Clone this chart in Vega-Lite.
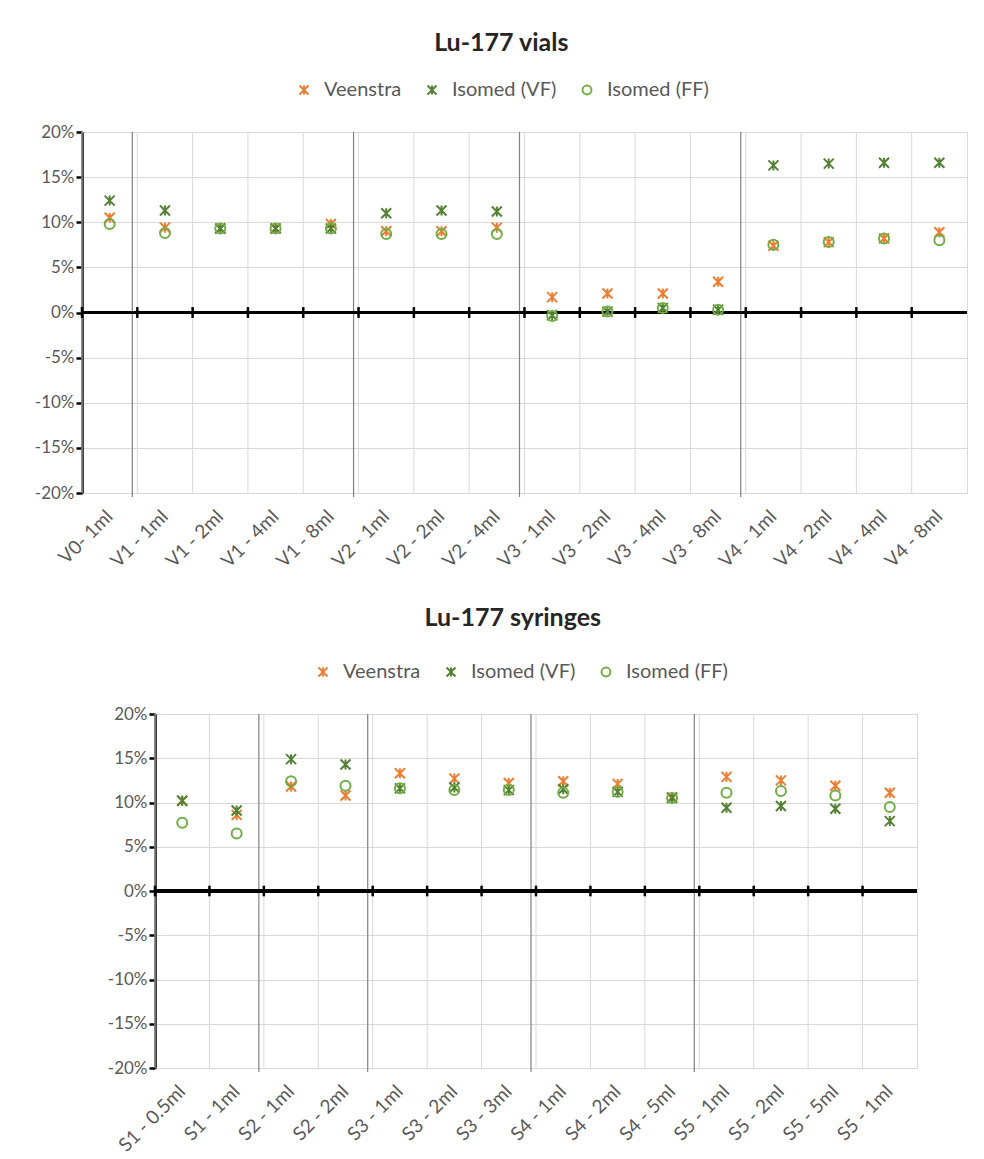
{
  "$schema": "https://vega.github.io/schema/vega-lite/v6.json",
  "padding": {"left": 33, "top": 30, "right": 4, "bottom": 4},
  "background": "white",
  "config": {
    "font": "Lato",
    "view": {"stroke": "#d9d9d9"},
    "axisX": {"labelAngle": -45, "labelFontSize": 19, "labelColor": "#595959", "labelBaseline": "middle", "labelAlign": "right", "ticks": false, "domain": false, "grid": false, "labelPadding": 20, "title": null},
    "axisY": {"labelFontSize": 17, "labelColor": "#595959", "domain": true, "domainColor": "#000000", "domainWidth": 2.5, "ticks": true, "tickColor": "#000000", "tickWidth": 2.5, "tickSize": 6, "labelPadding": 2, "grid": true, "gridColor": "#d9d9d9", "title": null},
    "legend": {"labelFontSize": 20, "labelColor": "#595959", "symbolStrokeWidth": 2, "symbolSize": 80, "labelOffset": 10, "columnPadding": 20, "padding": 0},
    "title": {"font": "Lato", "fontSize": 25, "fontWeight": "bold", "color": "#262626", "frame": "bounds", "anchor": "middle"}
  },
  "datasets": {
    "vials": [
      {"cat": "V0- 1ml", "series": "Veenstra", "value": 10.5},
      {"cat": "V1 - 1ml", "series": "Veenstra", "value": 9.4},
      {"cat": "V1 - 2ml", "series": "Veenstra", "value": 9.3},
      {"cat": "V1 - 4ml", "series": "Veenstra", "value": 9.3},
      {"cat": "V1 - 8ml", "series": "Veenstra", "value": 9.8},
      {"cat": "V2 - 1ml", "series": "Veenstra", "value": 9.0},
      {"cat": "V2 - 2ml", "series": "Veenstra", "value": 9.0},
      {"cat": "V2 - 4ml", "series": "Veenstra", "value": 9.4},
      {"cat": "V3 - 1ml", "series": "Veenstra", "value": 1.7},
      {"cat": "V3 - 2ml", "series": "Veenstra", "value": 2.1},
      {"cat": "V3 - 4ml", "series": "Veenstra", "value": 2.1},
      {"cat": "V3 - 8ml", "series": "Veenstra", "value": 3.4},
      {"cat": "V4 - 1ml", "series": "Veenstra", "value": 7.4},
      {"cat": "V4 - 2ml", "series": "Veenstra", "value": 7.8},
      {"cat": "V4 - 4ml", "series": "Veenstra", "value": 8.2},
      {"cat": "V4 - 8ml", "series": "Veenstra", "value": 8.9},
      {"cat": "V0- 1ml", "series": "Isomed (VF)", "value": 12.4},
      {"cat": "V1 - 1ml", "series": "Isomed (VF)", "value": 11.3},
      {"cat": "V1 - 2ml", "series": "Isomed (VF)", "value": 9.3},
      {"cat": "V1 - 4ml", "series": "Isomed (VF)", "value": 9.3},
      {"cat": "V1 - 8ml", "series": "Isomed (VF)", "value": 9.3},
      {"cat": "V2 - 1ml", "series": "Isomed (VF)", "value": 11.0},
      {"cat": "V2 - 2ml", "series": "Isomed (VF)", "value": 11.3},
      {"cat": "V2 - 4ml", "series": "Isomed (VF)", "value": 11.2},
      {"cat": "V3 - 1ml", "series": "Isomed (VF)", "value": -0.3},
      {"cat": "V3 - 2ml", "series": "Isomed (VF)", "value": 0.1},
      {"cat": "V3 - 4ml", "series": "Isomed (VF)", "value": 0.5},
      {"cat": "V3 - 8ml", "series": "Isomed (VF)", "value": 0.3},
      {"cat": "V4 - 1ml", "series": "Isomed (VF)", "value": 16.3},
      {"cat": "V4 - 2ml", "series": "Isomed (VF)", "value": 16.5},
      {"cat": "V4 - 4ml", "series": "Isomed (VF)", "value": 16.6},
      {"cat": "V4 - 8ml", "series": "Isomed (VF)", "value": 16.6},
      {"cat": "V0- 1ml", "series": "Isomed (FF)", "value": 9.8},
      {"cat": "V1 - 1ml", "series": "Isomed (FF)", "value": 8.8},
      {"cat": "V1 - 2ml", "series": "Isomed (FF)", "value": 9.3},
      {"cat": "V1 - 4ml", "series": "Isomed (FF)", "value": 9.3},
      {"cat": "V1 - 8ml", "series": "Isomed (FF)", "value": 9.3},
      {"cat": "V2 - 1ml", "series": "Isomed (FF)", "value": 8.7},
      {"cat": "V2 - 2ml", "series": "Isomed (FF)", "value": 8.7},
      {"cat": "V2 - 4ml", "series": "Isomed (FF)", "value": 8.7},
      {"cat": "V3 - 1ml", "series": "Isomed (FF)", "value": -0.4},
      {"cat": "V3 - 2ml", "series": "Isomed (FF)", "value": 0.1},
      {"cat": "V3 - 4ml", "series": "Isomed (FF)", "value": 0.5},
      {"cat": "V3 - 8ml", "series": "Isomed (FF)", "value": 0.3},
      {"cat": "V4 - 1ml", "series": "Isomed (FF)", "value": 7.5},
      {"cat": "V4 - 2ml", "series": "Isomed (FF)", "value": 7.8},
      {"cat": "V4 - 4ml", "series": "Isomed (FF)", "value": 8.2},
      {"cat": "V4 - 8ml", "series": "Isomed (FF)", "value": 8.0}
    ],
    "vialsep": [{"cat": "V1 - 1ml"}, {"cat": "V2 - 1ml"}, {"cat": "V3 - 1ml"}, {"cat": "V4 - 1ml"}],
    "syringes": [
      {"cat": "S1 - 0.5ml", "series": "Veenstra", "value": 10.2},
      {"cat": "S1 - 1ml", "series": "Veenstra", "value": 8.6},
      {"cat": "S2 - 1ml", "series": "Veenstra", "value": 11.8},
      {"cat": "S2 - 2ml", "series": "Veenstra", "value": 10.8},
      {"cat": "S3 - 1ml", "series": "Veenstra", "value": 13.3},
      {"cat": "S3 - 2ml", "series": "Veenstra", "value": 12.7},
      {"cat": "S3 - 3ml", "series": "Veenstra", "value": 12.2},
      {"cat": "S4 - 1ml", "series": "Veenstra", "value": 12.4},
      {"cat": "S4 - 2ml", "series": "Veenstra", "value": 12.1},
      {"cat": "S4 - 5ml", "series": "Veenstra", "value": 10.6},
      {"cat": "S5 - 1ml", "series": "Veenstra", "value": 12.9},
      {"cat": "S5 - 2ml", "series": "Veenstra", "value": 12.5},
      {"cat": "S5 - 5ml", "series": "Veenstra", "value": 11.9},
      {"cat": "S5 - 1ml ", "series": "Veenstra", "value": 11.1},
      {"cat": "S1 - 0.5ml", "series": "Isomed (VF)", "value": 10.2},
      {"cat": "S1 - 1ml", "series": "Isomed (VF)", "value": 9.1},
      {"cat": "S2 - 1ml", "series": "Isomed (VF)", "value": 14.9},
      {"cat": "S2 - 2ml", "series": "Isomed (VF)", "value": 14.3},
      {"cat": "S3 - 1ml", "series": "Isomed (VF)", "value": 11.6},
      {"cat": "S3 - 2ml", "series": "Isomed (VF)", "value": 11.7},
      {"cat": "S3 - 3ml", "series": "Isomed (VF)", "value": 11.4},
      {"cat": "S4 - 1ml", "series": "Isomed (VF)", "value": 11.5},
      {"cat": "S4 - 2ml", "series": "Isomed (VF)", "value": 11.2},
      {"cat": "S4 - 5ml", "series": "Isomed (VF)", "value": 10.5},
      {"cat": "S5 - 1ml", "series": "Isomed (VF)", "value": 9.4},
      {"cat": "S5 - 2ml", "series": "Isomed (VF)", "value": 9.6},
      {"cat": "S5 - 5ml", "series": "Isomed (VF)", "value": 9.3},
      {"cat": "S5 - 1ml ", "series": "Isomed (VF)", "value": 7.9},
      {"cat": "S1 - 0.5ml", "series": "Isomed (FF)", "value": 7.7},
      {"cat": "S1 - 1ml", "series": "Isomed (FF)", "value": 6.5},
      {"cat": "S2 - 1ml", "series": "Isomed (FF)", "value": 12.4},
      {"cat": "S2 - 2ml", "series": "Isomed (FF)", "value": 11.9},
      {"cat": "S3 - 1ml", "series": "Isomed (FF)", "value": 11.6},
      {"cat": "S3 - 2ml", "series": "Isomed (FF)", "value": 11.4},
      {"cat": "S3 - 3ml", "series": "Isomed (FF)", "value": 11.4},
      {"cat": "S4 - 1ml", "series": "Isomed (FF)", "value": 11.1},
      {"cat": "S4 - 2ml", "series": "Isomed (FF)", "value": 11.2},
      {"cat": "S4 - 5ml", "series": "Isomed (FF)", "value": 10.5},
      {"cat": "S5 - 1ml", "series": "Isomed (FF)", "value": 11.1},
      {"cat": "S5 - 2ml", "series": "Isomed (FF)", "value": 11.3},
      {"cat": "S5 - 5ml", "series": "Isomed (FF)", "value": 10.8},
      {"cat": "S5 - 1ml ", "series": "Isomed (FF)", "value": 9.5}
    ],
    "syrsep": [{"cat": "S2 - 1ml"}, {"cat": "S3 - 1ml"}, {"cat": "S4 - 1ml"}, {"cat": "S5 - 1ml"}]
  },
  "vconcat": [
    {
      "title": {"text": "Lu-177 vials", "offset": 24},
      "width": 885,
      "height": 361,
      "layer": [
        {
          "data": {"name": "vials"},
          "transform": [{"filter": "datum.series === 'Veenstra'"}],
          "mark": {"type": "rule", "color": "#d9d9d9", "strokeWidth": 1},
          "encoding": {
            "x": {"field": "cat", "type": "nominal", "bandPosition": 0, "title": null,
              "scale": {"type": "band", "paddingInner": 0, "paddingOuter": 0,
                "domain": ["V0- 1ml", "V1 - 1ml", "V1 - 2ml", "V1 - 4ml", "V1 - 8ml", "V2 - 1ml", "V2 - 2ml", "V2 - 4ml", "V3 - 1ml", "V3 - 2ml", "V3 - 4ml", "V3 - 8ml", "V4 - 1ml", "V4 - 2ml", "V4 - 4ml", "V4 - 8ml"]}},
            "y": {"datum": -20, "type": "quantitative", "scale": {"domain": [-20, 20], "nice": false},
              "axis": {"values": [-20, -15, -10, -5, 0, 5, 10, 15, 20], "labelExpr": "datum.value + '%'"}},
            "y2": {"datum": 20}
          }
        },
        {
          "data": {"name": "vialsep"},
          "mark": {"type": "rule", "color": "#808080", "strokeWidth": 1.2, "xOffset": -5},
          "encoding": {
            "x": {"field": "cat", "type": "nominal", "bandPosition": 0, "title": null},
            "y": {"datum": 20, "type": "quantitative"},
            "y2": {"datum": -20.45}
          }
        },
        {
          "data": {"name": "vials"},
          "mark": {"type": "rule", "color": "#000000", "strokeWidth": 2.5},
          "encoding": {"y": {"datum": 0, "type": "quantitative"}}
        },
        {
          "data": {"name": "vials"},
          "transform": [{"filter": "datum.series === 'Veenstra'"}],
          "mark": {"type": "rule", "color": "#000000", "strokeWidth": 2.5},
          "encoding": {
            "x": {"field": "cat", "type": "nominal", "bandPosition": 0, "title": null},
            "y": {"datum": -0.6, "type": "quantitative"},
            "y2": {"datum": 0.6}
          }
        },
        {
          "data": {"name": "vials"},
          "mark": {"type": "point", "filled": false, "strokeWidth": 2, "size": 100, "opacity": 1},
          "encoding": {
            "x": {"field": "cat", "type": "nominal", "title": null},
            "y": {"field": "value", "type": "quantitative", "title": null},
            "color": {"field": "series", "type": "nominal",
              "scale": {"domain": ["Veenstra", "Isomed (VF)", "Isomed (FF)"], "range": ["#ED7D31", "#548235", "#70AD47"]},
              "legend": {"title": null, "orient": "none", "direction": "horizontal", "legendX": 212, "legendY": -52}},
            "shape": {"field": "series", "type": "nominal",
              "scale": {"domain": ["Veenstra", "Isomed (VF)", "Isomed (FF)"], "range": ["M-1,-1L1,1M1,-1L-1,1M0,-1L0,1", "M-1,-1L1,1M1,-1L-1,1M0,-1L0,1", "circle"]},
              "legend": {"title": null, "orient": "none", "direction": "horizontal", "legendX": 212, "legendY": -52}}
          }
        }
      ]
    },
    {
      "spacing": 0,
      "resolve": {"scale": {"color": "independent", "shape": "independent"}, "legend": {"color": "independent", "shape": "independent"}},
      "hconcat": [
        {
          "width": 24,
          "height": 10,
          "view": {"stroke": null},
          "data": {"values": [{"a": 1}]},
          "mark": {"type": "point", "opacity": 0}
        },
        {
          "title": {"text": "Lu-177 syringes", "offset": 31},
          "width": 762,
          "height": 354,
          "layer": [
            {
              "data": {"name": "syringes"},
              "transform": [{"filter": "datum.series === 'Veenstra'"}],
              "mark": {"type": "rule", "color": "#d9d9d9", "strokeWidth": 1},
              "encoding": {
                "x": {"field": "cat", "type": "nominal", "bandPosition": 0, "title": null,
                  "scale": {"type": "band", "paddingInner": 0, "paddingOuter": 0,
                    "domain": ["S1 - 0.5ml", "S1 - 1ml", "S2 - 1ml", "S2 - 2ml", "S3 - 1ml", "S3 - 2ml", "S3 - 3ml", "S4 - 1ml", "S4 - 2ml", "S4 - 5ml", "S5 - 1ml", "S5 - 2ml", "S5 - 5ml", "S5 - 1ml "]}},
                "y": {"datum": -20, "type": "quantitative", "scale": {"domain": [-20, 20], "nice": false},
                  "axis": {"values": [-20, -15, -10, -5, 0, 5, 10, 15, 20], "labelExpr": "datum.value + '%'"}},
                "y2": {"datum": 20}
              }
            },
            {
              "data": {"name": "syrsep"},
              "mark": {"type": "rule", "color": "#808080", "strokeWidth": 1.2, "xOffset": -5},
              "encoding": {
                "x": {"field": "cat", "type": "nominal", "bandPosition": 0, "title": null},
                "y": {"datum": 20, "type": "quantitative"},
                "y2": {"datum": -20.45}
              }
            },
            {
              "data": {"name": "syringes"},
              "mark": {"type": "rule", "color": "#000000", "strokeWidth": 2.5},
              "encoding": {"y": {"datum": 0, "type": "quantitative"}}
            },
            {
              "data": {"name": "syringes"},
              "transform": [{"filter": "datum.series === 'Veenstra'"}],
              "mark": {"type": "rule", "color": "#000000", "strokeWidth": 2.5},
              "encoding": {
                "x": {"field": "cat", "type": "nominal", "bandPosition": 0, "title": null},
                "y": {"datum": -0.6, "type": "quantitative"},
                "y2": {"datum": 0.6}
              }
            },
            {
              "data": {"name": "syringes"},
              "mark": {"type": "point", "filled": false, "strokeWidth": 2, "size": 100, "opacity": 1},
              "encoding": {
                "x": {"field": "cat", "type": "nominal", "title": null},
                "y": {"field": "value", "type": "quantitative", "title": null},
                "color": {"field": "series", "type": "nominal",
                  "scale": {"domain": ["Veenstra", "Isomed (VF)", "Isomed (FF)"], "range": ["#ED7D31", "#548235", "#70AD47"]},
                  "legend": {"title": null, "orient": "none", "direction": "horizontal", "legendX": 158, "legendY": -52}},
                "shape": {"field": "series", "type": "nominal",
                  "scale": {"domain": ["Veenstra", "Isomed (VF)", "Isomed (FF)"], "range": ["M-1,-1L1,1M1,-1L-1,1M0,-1L0,1", "M-1,-1L1,1M1,-1L-1,1M0,-1L0,1", "circle"]},
                  "legend": {"title": null, "orient": "none", "direction": "horizontal", "legendX": 158, "legendY": -52}}
              }
            }
          ]
        }
      ]
    }
  ],
  "resolve": {"scale": {"color": "independent", "shape": "independent", "x": "independent", "y": "independent"}},
  "spacing": 33
}
